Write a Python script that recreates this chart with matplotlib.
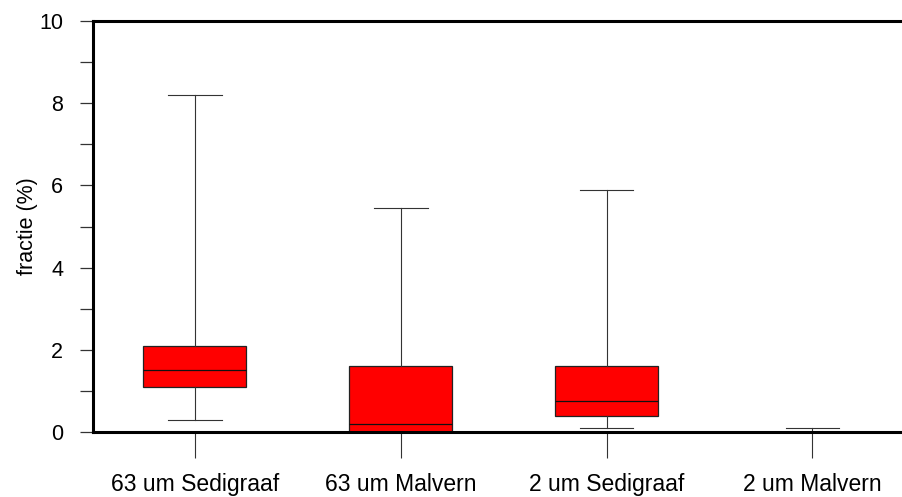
import matplotlib
matplotlib.use("Agg")
import matplotlib.pyplot as plt
from matplotlib.ticker import MultipleLocator

plt.rcParams['font.family'] = ['Liberation Sans', 'DejaVu Sans']

categories = ["63 um Sedigraaf", "63 um Malvern", "2 um Sedigraaf", "2 um Malvern"]
whislo = [0.3, 0.0, 0.1, 0.0]
q1 = [1.1, 0.0, 0.4, 0.0]
med = [1.5, 0.2, 0.75, 0.0]
q3 = [2.1, 1.6, 1.6, 0.0]
whishi = [8.2, 5.45, 5.9, 0.1]

stats = [dict(label=c, whislo=a, q1=b, med=m, q3=d, whishi=e, fliers=[])
         for c, a, b, m, d, e in zip(categories, whislo, q1, med, q3, whishi)]

fig = plt.figure(figsize=(9.03, 4.97), dpi=100)
ax = fig.add_axes([0.103, 0.1308, 0.897, 0.8269])

ax.bxp(stats, positions=[1, 2, 3, 4], widths=0.5, showfliers=False,
       patch_artist=True,
       boxprops=dict(facecolor='#ff0000', edgecolor='#222222', linewidth=0.9),
       medianprops=dict(color='#111111', linewidth=0.9),
       whiskerprops=dict(color='#333333', linewidth=0.8),
       capprops=dict(color='#333333', linewidth=0.8),
       capwidths=0.26)

ax.set_xlim(0.505, 4.44)
ax.set_ylim(0, 10)
ax.yaxis.set_major_locator(MultipleLocator(2))
ax.yaxis.set_minor_locator(MultipleLocator(1))

for s in ['left', 'bottom', 'top']:
    ax.spines[s].set_linewidth(2.2)
    ax.spines[s].set_color('black')
ax.spines['right'].set_visible(False)

ax.tick_params(axis='y', which='both', direction='out', length=9.5, width=0.9,
               color='#333333', labelsize=15.5, pad=12)
ax.tick_params(axis='x', direction='out', length=19, width=0.8,
               color='#333333', labelsize=16.5, pad=10.5)
ax.set_xticks([1, 2, 3, 4])
ax.set_xticklabels(categories)
ax.set_ylabel("fractie (%)", fontsize=15.5, labelpad=1)

fig.savefig("out.png", dpi=100)
